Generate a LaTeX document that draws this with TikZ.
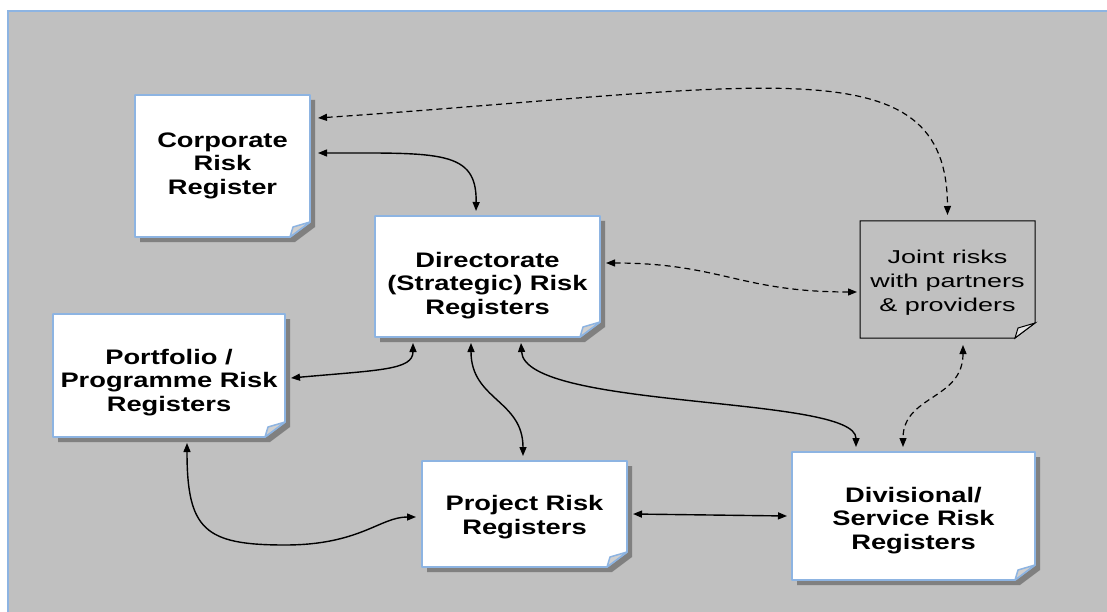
\documentclass[tikz,border=0pt]{standalone}
\usepackage{fontspec}
\usetikzlibrary{arrows.meta,backgrounds}
\newfontfamily\docfont{Liberation Sans}[FakeStretch=1.3]
\newfontfamily\notefont{Liberation Sans}[FakeStretch=1.45]
\definecolor{bggray}{HTML}{C0C0C0}
\definecolor{edgeblue}{HTML}{8DB4E2}
\definecolor{foldgray}{HTML}{D0D0D0}
% lines of a register, lowered by #1
\newcommand{\regtext}[2]{\raisebox{#1}[0pt][0pt]{\begin{tabular}{@{}c@{}}#2\end{tabular}}}
\tikzset{
  doc/.style={inner sep=0pt, outer sep=0pt, font=\docfont\bfseries\fontsize{21}{23.5}\selectfont},
  note/.style={inner sep=0pt, outer sep=0pt, font=\notefont\fontsize{18.6}{24}\selectfont},
  link/.style={{Triangle[length=9pt,width=7pt]}-{Triangle[length=9pt,width=7pt]}, line width=1.4pt},
  dlink/.style={link, line width=1.2pt, dash pattern=on 6pt off 4pt},
}
\begin{document}
\begin{tikzpicture}[x=1pt, y=1pt]
    \useasboundingbox (0,0) rectangle (1107,-612);
    % registers
    \node[doc, minimum width=175pt, minimum height=142pt, anchor=north west] (corp) at (135,-95) {\regtext{-5.3pt}{Corporate\\Risk\\Register}};
    \node[doc, minimum width=225pt, minimum height=121pt, anchor=north west] (dir) at (375,-216) {\regtext{-14.5pt}{Directorate\\(Strategic) Risk\\Registers}};
    \node[note, minimum width=175pt, minimum height=117pt, anchor=north west] (joint) at (860,-221) {\regtext{-8pt}{Joint risks\\with partners\\\& providers}};
    \node[doc, minimum width=232pt, minimum height=123pt, anchor=north west] (port) at (53,-314) {\regtext{-12.5pt}{Portfolio /\\Programme Risk\\Registers}};
    \node[doc, minimum width=205pt, minimum height=106pt, anchor=north west] (proj) at (422,-461) {\regtext{-9pt}{Project Risk\\Registers}};
    \node[doc, minimum width=243pt, minimum height=128pt, anchor=north west] (div) at (792,-452) {\regtext{-10.4pt}{Divisional/\\Service Risk\\Registers}};
    \begin{pgfonlayer}{background}
        \fill[bggray, draw=edgeblue, line width=2pt] (8,-11) rectangle (1120,-625);
        % pages with folded corner
        \foreach \n in {corp,dir,port,proj,div} {
            \fill[black!50] ([shift={(5,-5)}]\n.north west) -- ([shift={(5,-5)}]\n.north east) -- ([shift={(5,10)}]\n.south east) -- ([shift={(-15,-5)}]\n.south east) -- ([shift={(5,-5)}]\n.south west) -- cycle;
            \filldraw[fill=white, draw=edgeblue, line width=1.8pt, line join=round] (\n.north west) -- (\n.north east) -- ([yshift=15pt]\n.south east) -- ([xshift=-20pt]\n.south east) -- (\n.south west) -- cycle;
            \filldraw[fill=foldgray, draw=edgeblue, line width=1.5pt, line join=round] ([yshift=15pt]\n.south east) -- ([shift={(-17,10)}]\n.south east) -- ([xshift=-20pt]\n.south east) -- cycle;
        }
        \draw[line width=1pt] (joint.north west) -- (joint.north east) -- ([yshift=15pt]joint.south east) -- ([xshift=-20pt]joint.south east) -- (joint.south west) -- cycle;
        \filldraw[fill=foldgray!60, line width=1pt] ([yshift=15pt]joint.south east) -- ([shift={(-17,10)}]joint.south east) -- ([xshift=-20pt]joint.south east) -- cycle;
    \end{pgfonlayer}
    % links
    \draw[dlink] ([shift={(8,48)}]corp.east) .. controls (769,-87) and (947,-43) .. ([yshift=6pt]joint.north);
    \draw[link] ([shift={(8,13)}]corp.east) .. controls (440,-153) and (477,-150) .. ([shift={(-11.5,5)}]dir.north);
    \draw[dlink] ([shift={(6,13.5)}]dir.east) .. controls (720,-263) and (740,-292) .. ([shift={(-3,-12.5)}]joint.west);
    \draw[link] ([shift={(6,-2.5)}]port.east) .. controls (380,-370) and (413,-370) .. ([shift={(-74.5,-6)}]dir.south);
    \draw[link] ([shift={(-16.5,-6)}]dir.south) .. controls (471,-400) and (523,-400) .. ([shift={(-1.5,5)}]proj.north);
    \draw[link] ([shift={(33.5,-6)}]dir.south) .. controls (525,-410) and (856,-395) .. ([shift={(-57.5,5)}]div.north);
    \draw[link] ([shift={(18,-6)}]port.south) .. controls (187,-530) and (205,-545) .. (285,-545) .. controls (360,-545) and (380,-517) .. ([shift={(-6,-3)}]proj.west);
    \draw[link] ([xshift=6pt]proj.east) -- ([xshift=-5pt]div.west);
    \draw[dlink] ([shift={(15.5,-7)}]joint.south) .. controls (963,-400) and (903,-395) .. ([shift={(-10.5,5)}]div.north);
\end{tikzpicture}
\end{document}
